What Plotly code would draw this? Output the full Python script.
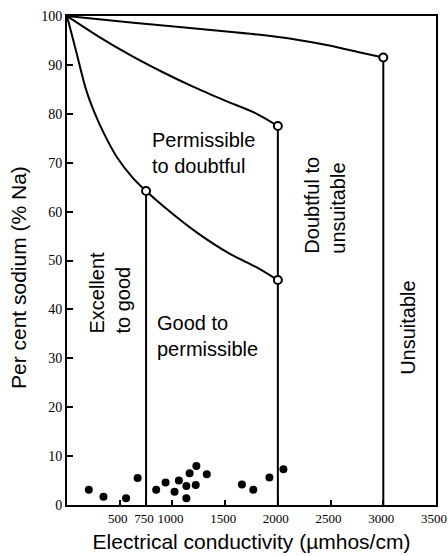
import plotly.graph_objects as go

# Boundary curves of the Wilcox diagram (EC in µmhos/cm, % Na)
curve_top_ec = [0, 630, 1490, 1810, 2140, 2450, 2770, 3000]
curve_top_na = [100, 98.6, 96.9, 96.2, 95.3, 94.1, 92.6, 91.5]

curve_mid_ec = [0, 300, 600, 900, 1200, 1500, 1800, 2000]
curve_mid_na = [100, 95.8, 92.0, 88.6, 85.5, 82.7, 80.0, 77.5]

curve_low_ec = [0, 90, 180, 260, 350, 477, 620, 750, 920, 1240, 1550, 1800, 2000]
curve_low_na = [100, 92.5, 85, 80.3, 76, 71, 67, 64.2, 61, 55.6, 51.3, 48.6, 46]

# Class boundary verticals (EC) and their top values
bound_ec = [750, 2000, 3000]
bound_na = [64.2, 77.5, 91.5]

# Open circle nodes
node_ec = [750, 2000, 3000, 2000]
node_na = [64.2, 77.5, 91.5, 46]

# Water samples
sample_ec = [207, 346, 560, 670, 846, 935, 1020, 1061, 1132, 1132, 1163, 1227,
             1221, 1326, 1659, 1767, 1920, 2053]
sample_na = [3.1, 1.7, 1.4, 5.5, 3.1, 4.6, 2.7, 5.0, 3.9, 1.4, 6.5, 8.0,
             4.1, 6.3, 4.2, 3.1, 5.6, 7.3]

x_ticks = [500, 750, 1000, 1500, 2000, 2500, 3000, 3500]
y_ticks = [0, 10, 20, 30, 40, 50, 60, 70, 80, 90, 100]

x_title = "Electrical conductivity (µmhos/cm)"
y_title = "Per cent sodium (% Na)"

# Region labels: text, ec, na, angle
region_text = ["Permissible<br>to doubtful", "Good to<br>permissible",
               "Excellent<br>to good", "Doubtful to<br>unsuitable", "Unsuitable"]
region_ec = [1297, 1330, 410, 2451, 3233]
region_na = [72, 34.6, 43.5, 61.3, 36.4]
region_angle = [0, 0, -90, -90, -90]

SANS = "Liberation Sans, Arial"
LINE = dict(color="black", width=2)
fig = go.Figure()

for xs, ys in [(curve_top_ec, curve_top_na), (curve_mid_ec, curve_mid_na),
               (curve_low_ec, curve_low_na)]:
    fig.add_trace(go.Scatter(x=xs, y=ys, mode="lines",
                             line=dict(color="black", width=2, shape="spline", smoothing=0.8),
                             hoverinfo="skip", showlegend=False))

vx, vy = [], []
for e, n in zip(bound_ec, bound_na):
    vx += [e, e, None]
    vy += [0, n, None]
fig.add_trace(go.Scatter(x=vx, y=vy, mode="lines", line=LINE,
                         hoverinfo="skip", showlegend=False))

fig.add_trace(go.Scatter(x=node_ec, y=node_na, mode="markers",
                         marker=dict(symbol="circle", size=8, color="white",
                                     line=dict(color="black", width=2)),
                         showlegend=False))

fig.add_trace(go.Scatter(x=sample_ec, y=sample_na, mode="markers",
                         marker=dict(symbol="circle", size=8, color="black"),
                         showlegend=False))

for t, e, n, a in zip(region_text, region_ec, region_na, region_angle):
    fig.add_annotation(x=e, y=n, text=t, showarrow=False, textangle=a,
                       align="left", xanchor="center", yanchor="middle",
                       font=dict(family=SANS, size=20, color="black"))

# y-axis title (placed as annotation to match its off-centre position)
fig.add_annotation(x=-0.133, y=0.466, xref="paper", yref="paper", text=y_title,
                   showarrow=False, textangle=-90, xanchor="center", yanchor="middle",
                   font=dict(family=SANS, size=21, color="black"))

fig.update_layout(
    width=448, height=556,
    margin=dict(l=67, r=12, t=16, b=51),
    paper_bgcolor="white", plot_bgcolor="white",
    font=dict(family="Liberation Serif, Times New Roman", color="black"),
)
fig.update_xaxes(range=[0, 3500], tickvals=x_ticks, ticktext=[str(v) for v in x_ticks],
                 automargin=False, tickangle=0, ticklabeloverflow="allow",
                 ticklabelshift=-2,
                 showgrid=False, zeroline=False, showline=True, linecolor="black",
                 linewidth=2, mirror=True, ticks="inside", ticklen=5, tickwidth=2,
                 tickcolor="black", tickfont=dict(size=13),
                 title=dict(text=x_title, font=dict(family=SANS, size=21), standoff=10))
fig.update_yaxes(range=[0, 100], tickvals=y_ticks, automargin=False,
                 showgrid=False, zeroline=False, showline=True, linecolor="black",
                 linewidth=2, mirror=True, ticks="inside", ticklen=6, tickwidth=2,
                 tickcolor="black", tickfont=dict(size=14))

fig.write_html("out.html", config={"displayModeBar": False},
               post_script="document.body.style.margin='0';document.body.style.overflow='hidden';")
